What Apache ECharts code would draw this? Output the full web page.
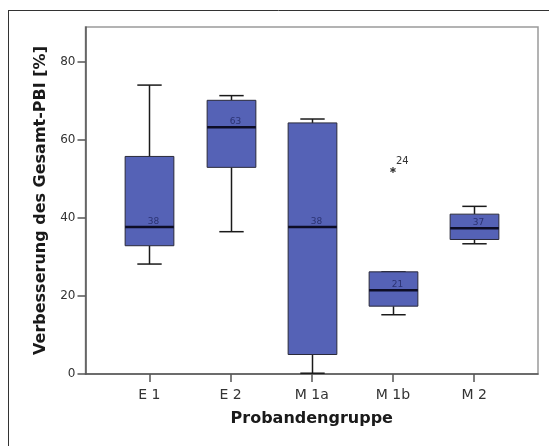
<!DOCTYPE html>
<html>
<head>
<meta charset="utf-8">
<script src="https://cdn.jsdelivr.net/npm/echarts@6/dist/echarts.min.js"></script>
<style>
html,body{margin:0;padding:0;background:#fff;}
#chart{width:549px;height:446px;}
</style>
</head>
<body>
<div id="chart"></div>
<script>
// ---- data ----
const categories   = ['E 1', 'E 2', 'M 1a', 'M 1b', 'M 2'];
const whiskerLow   = [28.2, 36.5, 0.2, 15.2, 33.4];
const q1           = [32.9, 53.0, 5.0, 17.4, 34.5];
const median       = [37.7, 63.3, 37.7, 21.5, 37.4];
const q3           = [55.8, 70.2, 64.4, 26.2, 41.0];
const whiskerHigh  = [74.1, 71.4, 65.4, 26.2, 43.0];
const medianLabels = ['38', '63', '38', '21', '37'];
const outlierGroup = [3];
const outlierValue = [52.3];
const outlierLabel = ['24'];
const yTicks = [0, 20, 40, 60, 80];
const yMax = 89;
const xTitle = 'Probandengruppe';
const yTitle = 'Verbesserung des Gesamt-PBI [%]';

const catIdx = categories.map((_, i) => i);
const boxData = categories.map((_, i) => [i, whiskerLow[i], q1[i], median[i], q3[i], whiskerHigh[i], medianLabels[i]]);
const outData = outlierGroup.map((g, k) => [g, outlierValue[k], outlierLabel[k]]);

const FONT = 'DejaVu Sans';
const BOX_FILL = '#5562b6';

function renderBox(params, api) {
  const i = api.value(0);
  const pLow = api.coord([i, api.value(1)]);
  const pQ1 = api.coord([i, api.value(2)]);
  const pMed = api.coord([i, api.value(3)]);
  const pQ3 = api.coord([i, api.value(4)]);
  const pHigh = api.coord([i, api.value(5)]);
  const unit = api.size([1, 0])[0];
  const bw = unit * 0.6;
  const cw = bw / 2;
  const x = Math.round(pMed[0]) + 0.5;
  const wStyle = { stroke: '#1a1a1a', lineWidth: 1.5 };
  return {
    type: 'group',
    children: [
      { type: 'line', shape: { x1: x, y1: pLow[1], x2: x, y2: pQ1[1] }, style: wStyle },
      { type: 'line', shape: { x1: x, y1: pQ3[1], x2: x, y2: pHigh[1] }, style: wStyle },
      { type: 'line', shape: { x1: x - cw / 2, y1: pLow[1], x2: x + cw / 2, y2: pLow[1] }, style: wStyle },
      { type: 'line', shape: { x1: x - cw / 2, y1: pHigh[1], x2: x + cw / 2, y2: pHigh[1] }, style: wStyle },
      { type: 'rect', shape: { x: x - bw / 2, y: pQ3[1], width: bw, height: pQ1[1] - pQ3[1] },
        style: { fill: BOX_FILL, stroke: '#2a2a3a', lineWidth: 1 } },
      { type: 'line', shape: { x1: x - bw / 2, y1: pMed[1], x2: x + bw / 2, y2: pMed[1] },
        style: { stroke: '#0d0d26', lineWidth: 2.5 } },
      { type: 'text', x: x + 4, y: pMed[1] - 1,
        style: { text: api.value(6), fill: '#2b3272', font: '9px "' + FONT + '"', align: 'center', verticalAlign: 'bottom' } }
    ]
  };
}

function renderOutlier(params, api) {
  const p = api.coord([api.value(0), api.value(1)]);
  const r = 3;
  const st = { stroke: '#333', lineWidth: 1.2 };
  const ch = [];
  for (let k = 0; k < 3; k++) {
    const a = Math.PI / 2 + k * Math.PI / 3;
    ch.push({ type: 'line', shape: { x1: p[0] - r * Math.cos(a), y1: p[1] - r * Math.sin(a), x2: p[0] + r * Math.cos(a), y2: p[1] + r * Math.sin(a) }, style: st });
  }
  ch.push({ type: 'text', x: p[0] + 3, y: p[1] - 4,
    style: { text: api.value(2), fill: '#333', font: '10px "' + FONT + '"', align: 'left', verticalAlign: 'bottom' } });
  return { type: 'group', children: ch };
}

const chart = echarts.init(document.getElementById('chart'), null, { renderer: 'canvas' });
chart.setOption({
  animation: false,
  backgroundColor: '#ffffff',
  grid: { left: 85.5, top: 27, right: 11, bottom: 72, show: true, borderColor: '#9a9a9a', borderWidth: 1.5, backgroundColor: 'transparent' },
  xAxis: {
    type: 'value', min: -0.785, max: 4.785,
    name: xTitle, nameLocation: 'middle', nameGap: 37,
    nameTextStyle: { fontFamily: FONT, fontWeight: 'bold', fontSize: 16, color: '#1a1a1a' },
    axisLine: { show: true, onZero: false, lineStyle: { color: '#555', width: 1.5 } },
    axisTick: { show: true, length: 8, customValues: catIdx, lineStyle: { color: '#555', width: 1.5 } },
    axisLabel: { customValues: catIdx, formatter: v => categories[Math.round(v)], fontFamily: FONT, fontSize: 14, color: '#333', margin: 14 },
    splitLine: { show: false }
  },
  yAxis: {
    type: 'value', min: 0, max: yMax,
    name: yTitle, nameLocation: 'middle', nameGap: 31,
    nameTextStyle: { fontFamily: FONT, fontWeight: 'bold', fontSize: 16, color: '#1a1a1a' },
    axisLine: { show: true, onZero: false, lineStyle: { color: '#555', width: 1.5 } },
    axisTick: { show: true, length: 8, customValues: yTicks, lineStyle: { color: '#555', width: 1.5 } },
    axisLabel: { customValues: yTicks, fontFamily: FONT, fontSize: 12, color: '#333', margin: 10 },
    splitLine: { show: false }
  },
  graphic: [
    { type: 'line', shape: { x1: 8, y1: 10.5, x2: 549, y2: 10.5 }, style: { stroke: '#333', lineWidth: 1 } },
    { type: 'line', shape: { x1: 8.5, y1: 10, x2: 8.5, y2: 446 }, style: { stroke: '#333', lineWidth: 1 } }
  ],
  series: [
    { type: 'custom', renderItem: renderBox, data: boxData, encode: { x: 0, y: [1, 5] }, clip: false },
    { type: 'custom', renderItem: renderOutlier, data: outData, encode: { x: 0, y: 1 }, clip: false }
  ]
});
</script>
</body>
</html>
